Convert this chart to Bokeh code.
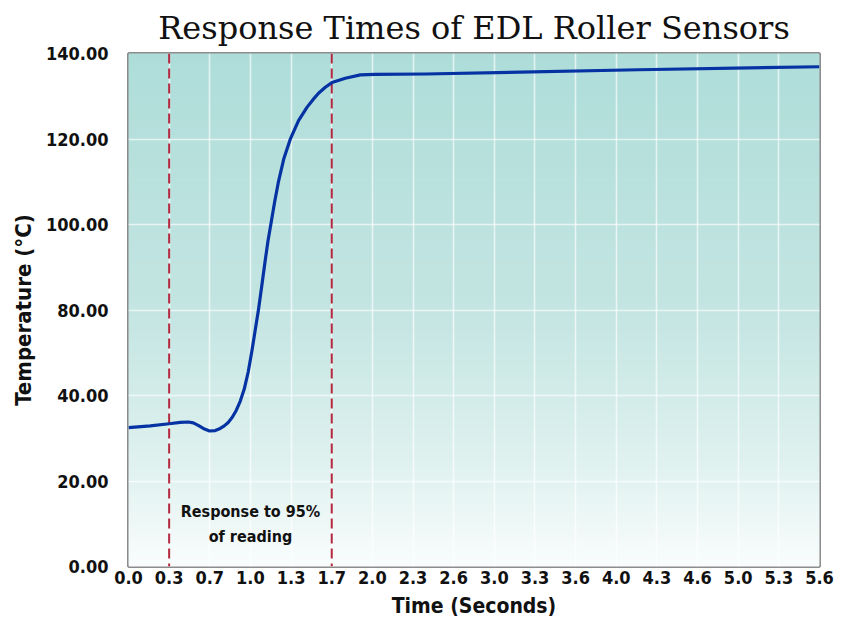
import numpy as np
from bokeh.plotting import figure
from bokeh.models import Span, Label, FixedTicker
from bokeh.embed import file_html
from bokeh.resources import INLINE

# ---------------- data ----------------
time_s = [0.000, 0.176, 0.330, 0.419, 0.486, 0.525, 0.565, 0.606, 0.657, 0.703,
          0.743, 0.776, 0.808, 0.841, 0.873, 0.906, 0.938, 0.970, 1.000, 1.027,
          1.053, 1.080, 1.107, 1.130, 1.154, 1.185, 1.216, 1.258, 1.313, 1.378,
          1.446, 1.495, 1.540, 1.595, 1.649, 1.757, 1.879, 1.998, 2.406, 4.133,
          5.600]
temp_c = [32.5, 32.9, 33.4, 33.7, 33.8, 33.6, 33.0, 32.3, 31.7, 31.8,
          32.3, 32.9, 33.7, 34.9, 36.5, 38.7, 43.0, 51.0, 60.8, 70.6,
          80.0, 85.6, 91.4, 96.1, 100.1, 105.4, 110.1, 115.3, 120.1, 124.3,
          127.4, 129.2, 130.7, 132.1, 133.2, 134.2, 135.0, 135.1, 135.2, 136.2,
          136.9]

x_tick_labels = ["0.0", "0.3", "0.7", "1.0", "1.3", "1.7", "2.0", "2.3", "2.6",
                 "3.0", "3.3", "3.6", "4.0", "4.3", "4.6", "5.0", "5.3", "5.6"]
y_tick_values = [0, 20, 40, 80, 100, 120, 140]
y_tick_labels = ["0.00", "20.00", "40.00", "80.00", "100.00", "120.00", "140.00"]

response_start_tick = 1      # "0.3"
response_end_tick = 5        # "1.7"
annotation_tick = 3          # "1.0"
annotation_temp = 10.0
annotation_text = "Response to 95%\nof reading"

title_text = "Response Times of EDL Roller Sensors"
x_label = "Time (Seconds)"
y_label = "Temperature (°C)"

# ---------------- axis mapping ----------------
x_max = 5.6
x_ticks = list(np.linspace(0, x_max, len(x_tick_labels)))
y_pos = list(range(len(y_tick_values)))          # evenly spaced gridlines
y_plot = np.interp(temp_c, y_tick_values, y_pos)  # map values onto the axis

AXIS_FONT = "DejaVu Sans Condensed"
TITLE_FONT = "DejaVu Serif"

p = figure(width=850, height=622, x_range=(0, x_max), y_range=(0, y_pos[-1]),
           output_backend="svg", toolbar_location=None,
           min_border_left=128, min_border_right=31,
           min_border_top=52, min_border_bottom=56)

# gradient background (teal at top fading to white)
n = 160
edges = np.linspace(0, y_pos[-1], n + 1)
mid = (edges[:-1] + edges[1:]) / 2
stops_g = [0, 1, 2, 3, 6]
stops_rgb = [(250, 253, 253), (227, 243, 241), (211, 236, 233), (196, 229, 226), (174, 221, 217)]
cols = []
for g in mid:
    r = np.interp(g, stops_g, [c[0] for c in stops_rgb])
    gg = np.interp(g, stops_g, [c[1] for c in stops_rgb])
    b = np.interp(g, stops_g, [c[2] for c in stops_rgb])
    cols.append("#%02x%02x%02x" % (int(round(r)), int(round(gg)), int(round(b))))
ov = (edges[1] - edges[0]) * 0.6
p.quad(left=0, right=x_max, bottom=edges[:-1] - ov, top=edges[1:] + ov,
       fill_color=cols, line_color=None, level="image")

# grid
p.xgrid.ticker = FixedTicker(ticks=x_ticks)
p.ygrid.ticker = FixedTicker(ticks=y_pos)
for g in (p.xgrid, p.ygrid):
    g.grid_line_color = "#ffffff"
    g.grid_line_alpha = 0.65
    g.grid_line_width = 1.6

# response window markers
for t in (response_start_tick, response_end_tick):
    p.add_layout(Span(location=x_ticks[t], dimension="height", line_color="#b3283f",
                      line_width=2, line_dash="10 5", level="underlay"))

# the curve
p.line(time_s, y_plot, line_color="#0633a3", line_width=3.2, line_join="round")

# annotation
p.add_layout(Label(x=x_ticks[annotation_tick],
                   y=float(np.interp(annotation_temp, y_tick_values, y_pos)),
                   text=annotation_text, text_align="center", text_baseline="middle",
                   text_font=AXIS_FONT, text_font_style="bold", text_font_size="16px",
                   text_color="#111111", text_line_height=1.3))

# frame
p.outline_line_color = "#8c8c8c"
p.outline_line_width = 3
p.background_fill_color = "#ffffff"
p.border_fill_color = "#ffffff"

# axes
p.xaxis.ticker = FixedTicker(ticks=x_ticks)
p.xaxis.major_label_overrides = {float(x_ticks[i]): s for i, s in enumerate(x_tick_labels)}
p.yaxis.ticker = FixedTicker(ticks=y_pos)
p.yaxis.major_label_overrides = {i: s for i, s in enumerate(y_tick_labels)}
for ax in (p.xaxis, p.yaxis):
    ax.axis_line_color = None
    ax.major_tick_line_color = None
    ax.minor_tick_line_color = None
    ax.major_tick_out = 0
    ax.major_tick_in = 0
    ax.major_label_text_font = AXIS_FONT
    ax.major_label_text_font_style = "bold"
    ax.major_label_text_font_size = "18px"
    ax.major_label_text_color = "#111111"
    ax.axis_label_text_font = AXIS_FONT
    ax.axis_label_text_font_style = "bold"
    ax.axis_label_text_color = "#111111"
p.xaxis.axis_label = x_label
p.yaxis.axis_label = y_label
p.xaxis.axis_label_text_font_size = "21px"
p.yaxis.axis_label_text_font_size = "22px"
p.xaxis.major_label_standoff = 4
p.xaxis.axis_label_standoff = 7
p.yaxis.major_label_standoff = 20
p.yaxis.axis_label_standoff = 7

# title
p.title.text = title_text
p.title.align = "center"
p.title.text_font = TITLE_FONT
p.title.text_font_style = "normal"
p.title.text_font_size = "32px"
p.title.text_color = "#111111"
p.title.standoff = 13

open("out.html", "w").write(file_html(p, INLINE))
